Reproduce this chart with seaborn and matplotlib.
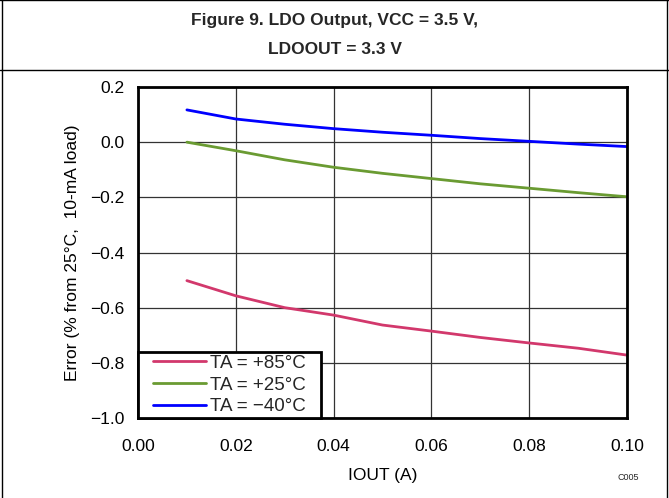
import matplotlib
matplotlib.use("Agg")
import matplotlib.pyplot as plt
import seaborn as sns
import pandas as pd
from matplotlib.lines import Line2D
from matplotlib.patches import Rectangle

sns.set_theme(style="white")
plt.rcParams['font.family'] = ['Liberation Sans', 'DejaVu Sans']

iout = [0.01, 0.02, 0.03, 0.04, 0.05, 0.06, 0.07, 0.08, 0.09, 0.10]
err_85 = [-0.502, -0.557, -0.600, -0.627, -0.663, -0.685, -0.708, -0.728, -0.747, -0.772]
err_25 = [0.000, -0.031, -0.064, -0.091, -0.113, -0.132, -0.151, -0.167, -0.183, -0.198]
err_m40 = [0.117, 0.084, 0.065, 0.049, 0.036, 0.025, 0.013, 0.003, -0.007, -0.016]
labels = ["TA = +85°C", "TA = +25°C", "TA = \u221240°C"]
colors = ["#D2386C", "#6A9B32", "#0000FF"]

xticks = [0.00, 0.02, 0.04, 0.06, 0.08, 0.10]
yticks = [0.2, 0.0, -0.2, -0.4, -0.6, -0.8, -1.0]

rows = []
for lab, vals in zip(labels, [err_85, err_25, err_m40]):
    for x, v in zip(iout, vals):
        rows.append({"IOUT": x, "Error": v, "Series": lab})
df = pd.DataFrame(rows)

W, H = 669, 498
AX_L, AX_R, AX_T, AX_B = 138, 627, 87, 418
fig = plt.figure(figsize=(W/100, H/100), dpi=100)
ax = fig.add_axes([AX_L/W, 1 - AX_B/H, (AX_R-AX_L)/W, (AX_B-AX_T)/H])

sns.lineplot(data=df, x="IOUT", y="Error", hue="Series", palette=dict(zip(labels, colors)),
             hue_order=labels, linewidth=2, ax=ax, legend=False)

ax.set_xlim(0, 0.10)
ax.set_ylim(-1.0, 0.2)
ax.set_xticks(xticks)
ax.set_xticklabels([f"{t:.2f}" for t in xticks])
ax.set_yticks(yticks)
ax.set_yticklabels([f"{t:.1f}".replace("-", "\u2212") for t in yticks])
ax.grid(True, color="#333333", linewidth=0.9)
ax.set_axisbelow(True)
for s in ax.spines.values():
    s.set_color("black")
    s.set_linewidth(2)
ax.tick_params(axis="x", labelsize=12.5, colors="black", length=0, pad=15)
ax.tick_params(axis="y", labelsize=12.5, colors="black", length=0, pad=10)
ax.set_xlabel("IOUT (A)", fontsize=12.5, color="black", labelpad=10)
ax.set_ylabel("Error (% from 25°C,  10-mA load)", fontsize=12.5, color="black", labelpad=7)

# legend box (pixel extents of the reference frame)
LB_L, LB_R, LB_T, LB_B = 138, 321, 352, 418
def ax_frac(px, py):
    return (px - AX_L) / (AX_R - AX_L), (AX_B - py) / (AX_B - AX_T)
x0, y0 = ax_frac(LB_L, LB_B)
x1, y1 = ax_frac(LB_R, LB_T)
ax.add_patch(Rectangle((x0, y0), x1 - x0, y1 - y0, transform=ax.transAxes,
                       facecolor="white", edgecolor="black", linewidth=2, zorder=5,
                       clip_on=False))
handles = [Line2D([0], [0], color=c, lw=2) for c in colors]
leg = ax.legend(handles, labels, loc="center", bbox_to_anchor=((x0 + x1) / 2, (y0 + y1) / 2),
                fontsize=13.5, frameon=False, borderaxespad=0, handlelength=2.8,
                handletextpad=0.22, labelspacing=0.25, borderpad=0)
leg.set_zorder(6)

fig.text(0.5, 1 - 21/H, "Figure 9. LDO Output, VCC = 3.5 V,", ha="center", va="center",
         fontsize=12.5, fontweight="bold")
fig.text(0.5, 1 - 50/H, "LDOOUT = 3.3 V", ha="center", va="center",
         fontsize=12.5, fontweight="bold")
fig.text(628/W, 1 - 478/H, "C005", ha="center", va="center", fontsize=6.5)

fig.add_artist(Line2D([1.5/W, 1.5/W], [0, 1], color="black", lw=1))
fig.add_artist(Line2D([667/W, 667/W], [0, 1], color="black", lw=1))
fig.add_artist(Line2D([0, 1], [1 - 0.5/H, 1 - 0.5/H], color="black", lw=1))
fig.add_artist(Line2D([0, 1], [1 - 70/H, 1 - 70/H], color="black", lw=1))

fig.savefig("out.png", dpi=100)
